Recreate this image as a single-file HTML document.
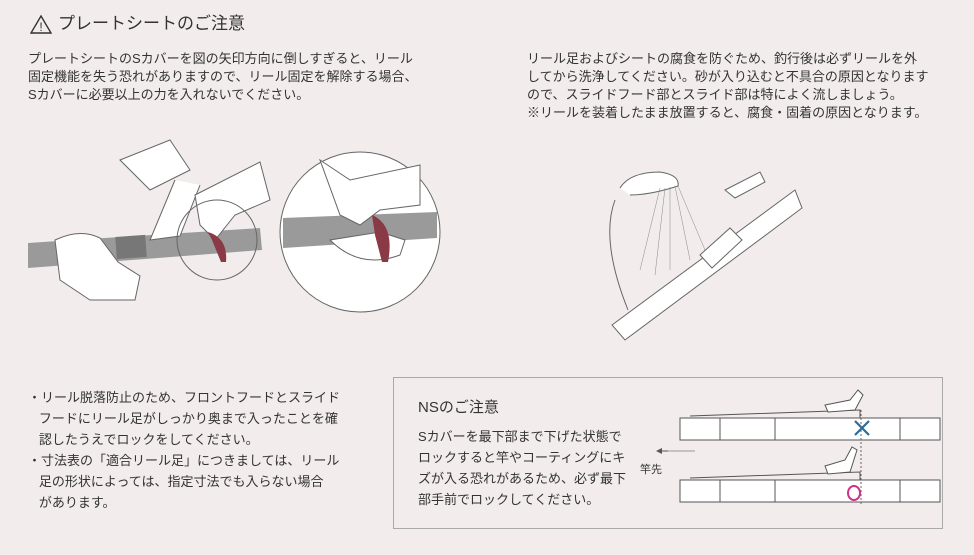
<!DOCTYPE html>
<html><head><meta charset="utf-8"><style>
body{margin:0;width:974px;height:555px;background:#f2eced;position:relative;overflow:hidden;font-family:"Liberation Sans","Noto Sans CJK JP",sans-serif;color:#333}
.t{position:absolute;white-space:nowrap;font-size:13px;line-height:18px}
</style></head><body>
<svg style="position:absolute;left:30px;top:14px" width="22" height="20"><path d="M11 2 L21 19 L1 19 Z" fill="none" stroke="#333" stroke-width="1.4"/><text x="11" y="17" font-size="12" text-anchor="middle" fill="#333" font-family="Liberation Sans">!</text></svg>
<div class="t" style="left:58px;top:13px;font-size:17px;line-height:22px">プレートシートのご注意</div>
<div class="t" style="left:28px;top:50px">プレートシートのSカバーを図の矢印方向に倒しすぎると、リール<br>固定機能を失う恐れがありますので、リール固定を解除する場合、<br>Sカバーに必要以上の力を入れないでください。</div>
<div class="t" style="left:527px;top:50px">リール足およびシートの腐食を防ぐため、釣行後は必ずリールを外<br>してから洗浄してください。砂が入り込むと不具合の原因となります<br>ので、スライドフード部とスライド部は特によく流しましょう。<br>※リールを装着したまま放置すると、腐食・固着の原因となります。</div>
<div class="t" style="left:28px;top:387px;line-height:21px">・リール脱落防止のため、フロントフードとスライド<br>&nbsp;&nbsp;&nbsp;フードにリール足がしっかり奥まで入ったことを確<br>&nbsp;&nbsp;&nbsp;認したうえでロックをしてください。<br>・寸法表の「適合リール足」につきましては、リール<br>&nbsp;&nbsp;&nbsp;足の形状によっては、指定寸法でも入らない場合<br>&nbsp;&nbsp;&nbsp;があります。</div>
<div style="position:absolute;left:393px;top:377px;width:548px;height:150px;border:1px solid #aaa"></div>
<div class="t" style="left:418px;top:398px;font-size:15px;line-height:20px">NSのご注意</div>
<div class="t" style="left:418px;top:426px;line-height:21px">Sカバーを最下部まで下げた状態で<br>ロックすると竿やコーティングにキ<br>ズが入る恐れがあるため、必ず最下<br>部手前でロックしてください。</div>
<div class="t" style="left:640px;top:461px;font-size:11px">竿先</div>
<svg style="position:absolute;left:0;top:0" width="974" height="555">
<g stroke="#666" stroke-width="1" fill="#fff">
<!-- left illustration -->
<path d="M28 243 L260 228 L262 250 L28 268 Z" fill="#9a9a9a" stroke="none"/>
<rect x="116" y="236" width="30" height="22" fill="#777" stroke="none" transform="rotate(-4 130 247)"/>
<path d="M55 240 Q80 228 100 238 L118 262 L140 276 L135 300 L90 300 L60 280 Z"/>
<path d="M120 160 L170 140 L190 170 L150 190 Z"/>
<path d="M175 180 L150 240 L180 236 L200 185"/>
<path d="M195 195 L260 162 L270 200 L235 215 L215 240 L200 225 Z"/>
<circle cx="217" cy="240" r="40" fill="none"/>
<circle cx="360" cy="232" r="80"/>
<path d="M283 218 L437 212 L437 238 L283 248 Z" fill="#9a9a9a" stroke="none"/>
<path d="M320 160 L350 180 L420 165 L420 205 L380 210 L360 225 L340 215 Z"/>
<path d="M330 240 Q360 270 400 255 L405 240 L380 232 Z"/>
</g>
<path d="M372 215 Q395 225 388 262 L382 262 L375 235 Z" fill="#8a3a45"/>
<path d="M208 232 Q228 238 226 262 L221 262 L212 240 Z" fill="#8a3a45"/>
<g stroke="#666" stroke-width="1" fill="#fff">
<!-- shower illustration -->
<path d="M612 325 L795 190 L802 208 L625 340 Z"/>
<path d="M620 188 Q630 172 660 172 Q680 175 678 186 Q650 195 630 195"/>
<path d="M615 200 Q600 240 628 310" fill="none"/>
<path d="M725 190 L760 172 L765 182 L735 198 Z"/>
<path d="M700 255 L730 228 L742 240 L712 268 Z"/>
</g>
<g stroke="#888" stroke-width="0.5">
<line x1="660" y1="188" x2="640" y2="270"/><line x1="665" y1="188" x2="655" y2="275"/><line x1="670" y1="187" x2="670" y2="270"/><line x1="675" y1="186" x2="690" y2="260"/><line x1="678" y1="186" x2="705" y2="250"/>
</g>
<g stroke="#555" stroke-width="1" fill="#fff">
<!-- NS diagrams -->
<path d="M680 418 L940 418 L940 440 L680 440 Z"/>
<path d="M690 416 L860 410 L860 418" fill="none"/>
<path d="M680 480 L940 480 L940 502 L680 502 Z"/>
<path d="M690 478 L860 472 L860 480" fill="none"/>
<path d="M825 405 L850 400 L858 390 L863 395 L855 410 L828 412 Z"/>
<path d="M825 466 L845 460 L852 447 L857 450 L850 472 L828 474 Z"/>
<line x1="775" y1="418" x2="775" y2="440"/><line x1="775" y1="480" x2="775" y2="502"/>
<line x1="720" y1="418" x2="720" y2="440"/><line x1="720" y1="480" x2="720" y2="502"/>
<line x1="900" y1="418" x2="900" y2="440"/><line x1="900" y1="480" x2="900" y2="502"/>
</g>
<line x1="861" y1="410" x2="861" y2="505" stroke="#666" stroke-dasharray="2,2"/>
<line x1="660" y1="451" x2="668" y2="451" stroke="#555"/><line x1="668" y1="451" x2="695" y2="451" stroke="#999"/><path d="M656 451 L662 448 L662 454 Z" fill="#555"/>
<path d="M855 421 L869 435 M869 421 L855 435" stroke="#2a6d96" stroke-width="2.2"/>
<ellipse cx="854" cy="493" rx="6" ry="7" fill="none" stroke="#cc3388" stroke-width="2"/>
</svg>
</body></html>
